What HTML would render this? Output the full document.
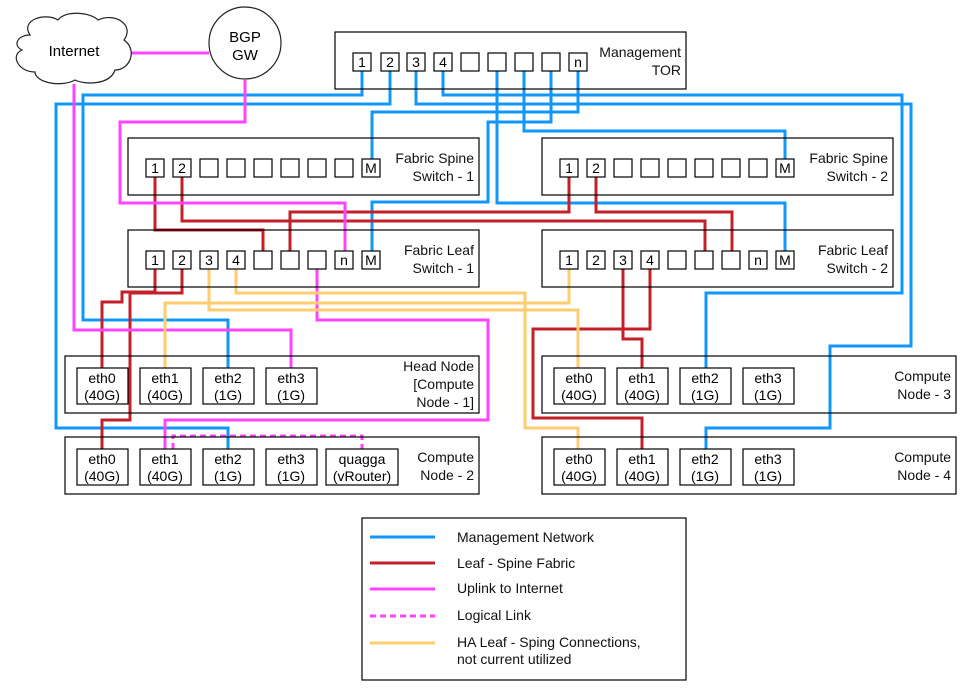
<!DOCTYPE html>
<html><head><meta charset="utf-8"><style>
html,body{margin:0;padding:0;background:#fff;}
svg{display:block;font-family:"Liberation Sans",Arial,sans-serif;}
</style></head><body>
<svg width="967" height="691" viewBox="0 0 967 691" xmlns="http://www.w3.org/2000/svg">
<g fill="none" stroke-width="3" stroke-linejoin="miter">
<g stroke="#1197fb">
<polyline points="362,62 362,95 83,95 83,320 228,320 228,386"/>
<polyline points="390,62 390,104 56,104 56,428 228,428 228,467"/>
<polyline points="416,62 416,104 911,104 911,346 830,346 830,428 706,428 706,467"/>
<polyline points="443,62 443,95 902,95 902,293 706,293 706,386"/>
<polyline points="497,62 497,203 785,203 785,260"/>
<polyline points="524,62 524,131 785,131 785,168"/>
<polyline points="551,62 551,122 488,122 488,202 372,202 372,260"/>
<polyline points="578,62 578,112 372,112 372,168"/>
</g>
<g stroke="#c3202a">
<polyline points="155,168 155,230 263,230 263,260"/>
<polyline points="182,168 182,221 705,221 705,260"/>
<polyline points="569,168 569,212 290,212 290,260"/>
<polyline points="596,168 596,212 732,212 732,260"/>
<polyline points="155,260 155,292 122,292 122,302 102,302 102,386"/>
<polyline points="182,260 182,293 130,293 130,420 102,420 102,467"/>
<polyline points="623,260 623,329 533,329 533,418 642,418 642,467"/>
<polyline points="650,260 650,329 623,329 623,339 642,339 642,386"/>
</g>
<g stroke="#ff44ff">
<polyline points="130,53 209,53"/>
<polyline points="74,84 74,330 291,330 291,386"/>
<polyline points="245,80 245,122 120,122 120,203 345,203 345,260"/>
<polyline points="317,260 317,320 488,320 488,420 165,420 165,467"/>
<polyline stroke-dasharray="6,4" points="173,449 173,436 362,436 362,449"/>
</g>
<g stroke="#ffcc70">
<polyline points="236,260 236,293 525,293 525,428 578,428 578,467"/>
<polyline points="209,260 209,310 578,310 578,386"/>
<polyline points="165,386 165,303 569,303 569,260"/>
</g>
</g>

<path d="M30,35 C20,20 45,12 58,20 C65,10 90,12 98,20 C115,12 135,25 124,40 C138,50 130,70 115,70 C110,85 85,85 75,80 C60,88 35,82 35,72 C18,72 10,55 22,50 C12,45 18,35 30,35 Z" fill="#fff" stroke="#222" stroke-width="1.2"/>
<text x="74" y="56" font-size="15" text-anchor="middle">Internet</text>
<circle cx="245" cy="43" r="36" fill="#fff" stroke="#222" stroke-width="1.2"/>
<text x="245" y="42" font-size="15" text-anchor="middle">BGP</text>
<text x="245" y="60" font-size="15" text-anchor="middle">GW</text>

<g fill="none" stroke="#000" stroke-width="1.2">
<rect x="335" y="32" width="351" height="57"/>
<rect x="128" y="138" width="351" height="57"/>
<rect x="128" y="230" width="351" height="57"/>
<rect x="542" y="138" width="351" height="57"/>
<rect x="542" y="230" width="351" height="57"/>
<rect x="65" y="356" width="414" height="57"/>
<rect x="65" y="437" width="414" height="57"/>
<rect x="542" y="356" width="414" height="57"/>
<rect x="542" y="437" width="414" height="57"/>
<rect x="362" y="518" width="324" height="162"/>
</g>

<g font-size="14" text-anchor="end" fill="#111">
<text x="681" y="57">Management</text><text x="681" y="75">TOR</text>
<text x="474" y="163">Fabric Spine</text><text x="474" y="181">Switch - 1</text>
<text x="474" y="255">Fabric Leaf</text><text x="474" y="273">Switch - 1</text>
<text x="888" y="163">Fabric Spine</text><text x="888" y="181">Switch - 2</text>
<text x="888" y="255">Fabric Leaf</text><text x="888" y="273">Switch - 2</text>
<text x="474" y="371">Head Node</text><text x="474" y="389">[Compute</text><text x="474" y="407">Node - 1]</text>
<text x="474" y="462">Compute</text><text x="474" y="480">Node - 2</text>
<text x="951" y="381">Compute</text><text x="951" y="399">Node - 3</text>
<text x="951" y="462">Compute</text><text x="951" y="480">Node - 4</text>
</g>

<g font-size="14" text-anchor="middle">
<g fill="#fff" stroke="#000" stroke-width="1.2">
<rect x="353" y="53" width="18" height="18"/><rect x="381" y="53" width="18" height="18"/><rect x="407" y="53" width="18" height="18"/><rect x="434" y="53" width="18" height="18"/><rect x="461" y="53" width="18" height="18"/><rect x="488" y="53" width="18" height="18"/><rect x="515" y="53" width="18" height="18"/><rect x="542" y="53" width="18" height="18"/><rect x="569" y="53" width="18" height="18"/>
<rect x="146" y="159" width="18" height="18"/><rect x="173" y="159" width="18" height="18"/><rect x="200" y="159" width="18" height="18"/><rect x="227" y="159" width="18" height="18"/><rect x="254" y="159" width="18" height="18"/><rect x="281" y="159" width="18" height="18"/><rect x="308" y="159" width="18" height="18"/><rect x="335" y="159" width="18" height="18"/><rect x="362" y="159" width="18" height="18"/>
<rect x="146" y="251" width="18" height="18"/><rect x="173" y="251" width="18" height="18"/><rect x="200" y="251" width="18" height="18"/><rect x="227" y="251" width="18" height="18"/><rect x="254" y="251" width="18" height="18"/><rect x="281" y="251" width="18" height="18"/><rect x="308" y="251" width="18" height="18"/><rect x="335" y="251" width="18" height="18"/><rect x="362" y="251" width="18" height="18"/>
<rect x="560" y="159" width="18" height="18"/><rect x="587" y="159" width="18" height="18"/><rect x="614" y="159" width="18" height="18"/><rect x="641" y="159" width="18" height="18"/><rect x="668" y="159" width="18" height="18"/><rect x="695" y="159" width="18" height="18"/><rect x="722" y="159" width="18" height="18"/><rect x="749" y="159" width="18" height="18"/><rect x="776" y="159" width="18" height="18"/>
<rect x="560" y="251" width="18" height="18"/><rect x="587" y="251" width="18" height="18"/><rect x="614" y="251" width="18" height="18"/><rect x="641" y="251" width="18" height="18"/><rect x="668" y="251" width="18" height="18"/><rect x="695" y="251" width="18" height="18"/><rect x="722" y="251" width="18" height="18"/><rect x="749" y="251" width="18" height="18"/><rect x="776" y="251" width="18" height="18"/>
<rect x="77" y="368" width="51" height="36"/><rect x="140" y="368" width="51" height="36"/><rect x="203" y="368" width="51" height="36"/><rect x="266" y="368" width="51" height="36"/>
<rect x="77" y="449" width="51" height="36"/><rect x="140" y="449" width="51" height="36"/><rect x="203" y="449" width="51" height="36"/><rect x="266" y="449" width="51" height="36"/><rect x="326" y="449" width="72" height="36"/>
<rect x="554" y="368" width="51" height="36"/><rect x="617" y="368" width="51" height="36"/><rect x="680" y="368" width="51" height="36"/><rect x="743" y="368" width="51" height="36"/>
<rect x="554" y="449" width="51" height="36"/><rect x="617" y="449" width="51" height="36"/><rect x="680" y="449" width="51" height="36"/><rect x="743" y="449" width="51" height="36"/>
</g>
<text x="362" y="67">1</text><text x="390" y="67">2</text><text x="416" y="67">3</text><text x="443" y="67">4</text><text x="578" y="67">n</text>
<text x="155" y="173">1</text><text x="182" y="173">2</text><text x="371" y="173">M</text>
<text x="155" y="265">1</text><text x="182" y="265">2</text><text x="209" y="265">3</text><text x="236" y="265">4</text><text x="344" y="265">n</text><text x="371" y="265">M</text>
<text x="569" y="173">1</text><text x="596" y="173">2</text><text x="785" y="173">M</text>
<text x="569" y="265">1</text><text x="596" y="265">2</text><text x="623" y="265">3</text><text x="650" y="265">4</text><text x="758" y="265">n</text><text x="785" y="265">M</text>
<g>
<text x="102" y="383">eth0</text><text x="102" y="400">(40G)</text>
<text x="165" y="383">eth1</text><text x="165" y="400">(40G)</text>
<text x="228" y="383">eth2</text><text x="228" y="400">(1G)</text>
<text x="291" y="383">eth3</text><text x="291" y="400">(1G)</text>
<text x="102" y="464">eth0</text><text x="102" y="481">(40G)</text>
<text x="165" y="464">eth1</text><text x="165" y="481">(40G)</text>
<text x="228" y="464">eth2</text><text x="228" y="481">(1G)</text>
<text x="291" y="464">eth3</text><text x="291" y="481">(1G)</text>
<text x="362" y="464">quagga</text><text x="362" y="481">(vRouter)</text>
<text x="579" y="383">eth0</text><text x="579" y="400">(40G)</text>
<text x="642" y="383">eth1</text><text x="642" y="400">(40G)</text>
<text x="705" y="383">eth2</text><text x="705" y="400">(1G)</text>
<text x="768" y="383">eth3</text><text x="768" y="400">(1G)</text>
<text x="579" y="464">eth0</text><text x="579" y="481">(40G)</text>
<text x="642" y="464">eth1</text><text x="642" y="481">(40G)</text>
<text x="705" y="464">eth2</text><text x="705" y="481">(1G)</text>
<text x="768" y="464">eth3</text><text x="768" y="481">(1G)</text>
</g>
</g>

<g stroke-width="3">
<line x1="370" y1="537" x2="435" y2="537" stroke="#1197fb"/>
<line x1="370" y1="563" x2="435" y2="563" stroke="#c3202a"/>
<line x1="370" y1="589" x2="435" y2="589" stroke="#ff44ff"/>
<line x1="370" y1="616" x2="435" y2="616" stroke="#ff44ff" stroke-dasharray="6,4"/>
<line x1="370" y1="643" x2="435" y2="643" stroke="#ffcc70"/>
</g>
<g font-size="14" fill="#111">
<text x="457" y="542">Management Network</text>
<text x="457" y="568">Leaf - Spine Fabric</text>
<text x="457" y="593">Uplink to Internet</text>
<text x="457" y="620">Logical Link</text>
<text x="457" y="647">HA Leaf - Sping Connections,</text>
<text x="457" y="664">not current utilized</text>
</g>
</svg>
</body></html>
